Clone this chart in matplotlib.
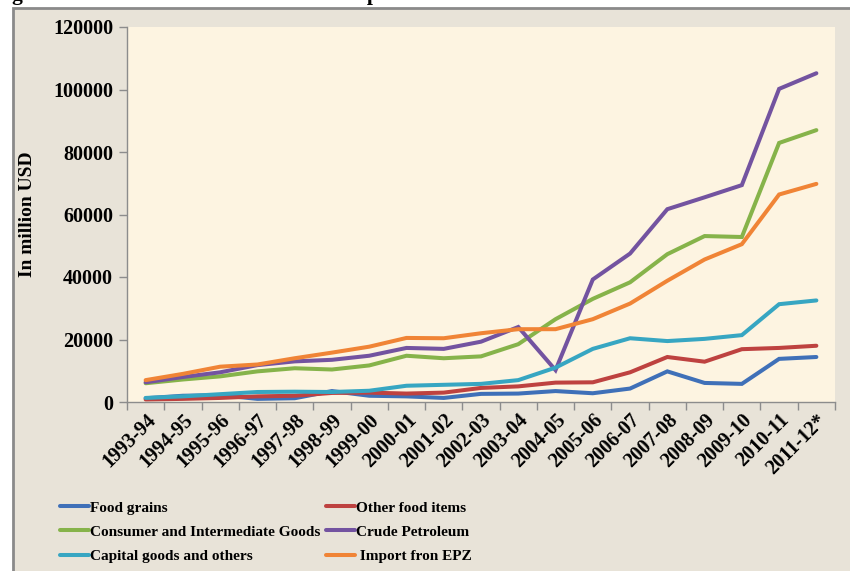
import matplotlib.pyplot as plt
from matplotlib.patches import Rectangle

years = ['1993-94', '1994-95', '1995-96', '1996-97', '1997-98', '1998-99',
         '1999-00', '2000-01', '2001-02', '2002-03', '2003-04', '2004-05',
         '2005-06', '2006-07', '2007-08', '2008-09', '2009-10', '2010-11',
         '2011-12*']

food_grains = [1200, 2000, 2200, 1000, 1200, 3500, 2000, 1800, 1300, 2600,
               2700, 3500, 2800, 4300, 9800, 6100, 5800, 13800, 14400]
other_food = [800, 1000, 1300, 1800, 2000, 2900, 3000, 2700, 3000, 4500,
              5000, 6200, 6300, 9500, 14400, 12900, 16900, 17300, 18000]
consumer_inter = [6000, 7200, 8200, 9800, 10800, 10400, 11700, 14800, 14000,
                  14600, 18500, 26500, 33000, 38300, 47300, 53100, 52800,
                  82900, 87000]
crude = [6300, 8000, 9500, 11800, 13000, 13500, 14800, 17300, 17000, 19300,
         24000, 10200, 39200, 47500, 61700, 65500, 69400, 100200, 105200]
capital = [1300, 1800, 2500, 3200, 3300, 3200, 3600, 5200, 5500, 5800,
           7000, 11000, 17000, 20400, 19500, 20200, 21400, 31300, 32500]
epz = [7000, 9000, 11300, 12000, 14000, 15800, 17700, 20500, 20400, 22000,
       23300, 23300, 26500, 31500, 38800, 45600, 50500, 66400, 69800]

series = [
    ('Food grains', food_grains, '#3f70b8'),
    ('Other food items', other_food, '#be4240'),
    ('Consumer and Intermediate Goods', consumer_inter, '#86b34a'),
    ('Crude Petroleum', crude, '#7353a0'),
    ('Capital goods and others', capital, '#37a6c2'),
    (' Import fron EPZ', epz, '#f08436'),
]

plt.rcParams['font.family'] = ['Liberation Serif', 'DejaVu Serif']
plt.rcParams['font.weight'] = 'bold'

fig = plt.figure(figsize=(8.5, 5.71), dpi=100, facecolor='white')

# outer panel with grey frame (left and top edges visible only)
W, H = 850, 571
fig.patches.append(Rectangle((13 / W, -0.1), 1.3, 1 - 8 / H + 0.1,
                             transform=fig.transFigure, facecolor='#e8e3d8',
                             edgecolor='#8a8a8a', linewidth=2, zorder=-5))

# title of the page, cut off at the very top
fig.text(-7 / W, 1.0, 'Figure 3.2: Trends in the Structure of Import',
         fontsize=15.5, fontweight='bold', va='baseline', ha='left')

ax = fig.add_axes([127 / W, 1 - 402 / H, (835 - 127) / W, (402 - 27) / H])
ax.set_facecolor('#fdf4e1')

x = range(len(years))
for name, vals, col in series:
    ax.plot(x, vals, color=col, linewidth=2.9, label=name,
            solid_capstyle='round', solid_joinstyle='miter')

ax.set_xlim(-0.5, len(years) - 0.5)
ax.set_ylim(0, 120000)
ax.set_yticks(range(0, 120001, 20000))
ax.set_yticklabels([str(v) for v in range(0, 120001, 20000)],
                   fontsize=14.5, fontweight='bold')
ax.set_xticks(list(x))
ax.set_xticklabels(years, rotation=45, ha='right', rotation_mode='anchor',
                   fontsize=14.5, fontweight='bold')
ax.set_xticks([i - 0.5 for i in range(len(years) + 1)], minor=True)
ax.tick_params(axis='x', which='major', length=0, pad=6)
ax.tick_params(axis='x', which='minor', length=6, color='#8c8c8c', width=1)
ax.tick_params(axis='y', length=6, color='#8c8c8c', width=1, pad=4)

for side in ['top', 'right']:
    ax.spines[side].set_visible(False)
for side in ['left', 'bottom']:
    ax.spines[side].set_color('#8c8c8c')
    ax.spines[side].set_linewidth(1)

fig.text(28 / W, 1 - 214 / H, 'In million USD', rotation=90, fontsize=14,
         fontweight='bold', ha='center', va='center')

# legend reads row by row in the reference
handles, labels = ax.get_legend_handles_labels()
order = [0, 2, 4, 1, 3, 5]
leg = fig.legend([handles[i] for i in order], [labels[i] for i in order],
                 loc='upper left', ncol=2,
                 bbox_to_anchor=(60 / W, 1 - 501 / H), frameon=False,
                 borderpad=0, borderaxespad=0,
                 fontsize=11, handlelength=1.9, handletextpad=0.05,
                 columnspacing=0.4, labelspacing=0.68)
for t in leg.get_texts():
    t.set_fontweight('bold')

fig.savefig('out.png', dpi=100, facecolor='white')
